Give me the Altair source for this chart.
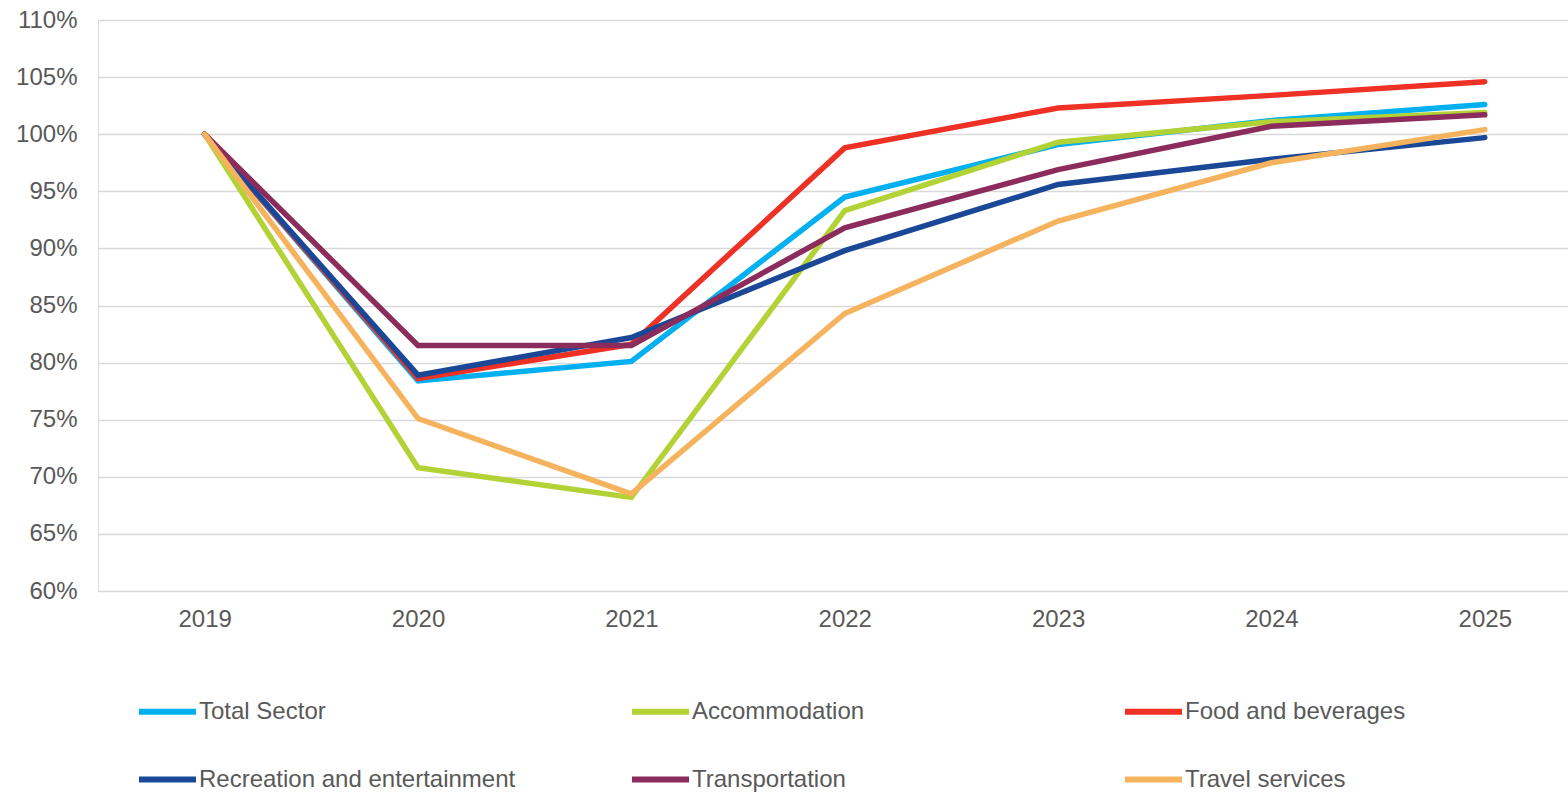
import altair as alt
import pandas as pd

years = [2019, 2020, 2021, 2022, 2023, 2024, 2025]
series = ["Total Sector", "Accommodation", "Food and beverages",
          "Recreation and entertainment", "Transportation", "Travel services"]
total_sector = [1.00, 0.784, 0.801, 0.945, 0.991, 1.012, 1.026]
accommodation = [1.00, 0.708, 0.682, 0.933, 0.993, 1.011, 1.019]
food_bev = [1.00, 0.786, 0.816, 0.988, 1.023, 1.034, 1.046]
recreation = [1.00, 0.789, 0.822, 0.898, 0.956, 0.978, 0.997]
transportation = [1.00, 0.815, 0.815, 0.918, 0.969, 1.007, 1.017]
travel = [1.00, 0.751, 0.685, 0.843, 0.924, 0.975, 1.004]
colors = ["#00B0F0", "#B2D235", "#EE3124", "#1A4896", "#8B2C5C", "#F6B35E"]

values = [total_sector, accommodation, food_bev, recreation, transportation, travel]
rows = []
for s, vals in zip(series, values):
    for y, v in zip(years, vals):
        rows.append({"Year": y, "Series": s, "Value": v, "order": series.index(s)})
df = pd.DataFrame(rows)

font = "Liberation Sans"
grey = "#595959"

chart = alt.Chart(df).mark_line(strokeWidth=5.5, strokeCap="round").encode(
    x=alt.X("Year:Q", scale=alt.Scale(domain=[2018.5, 2025.39], nice=False, zero=False),
            axis=alt.Axis(values=years, format="d", title=None, grid=False, domain=False,
                          ticks=False, labelFontSize=24, labelColor=grey, labelFont=font,
                          labelPadding=16, labelFlush=False)),
    y=alt.Y("Value:Q", scale=alt.Scale(domain=[0.6, 1.1], nice=False, zero=False),
            axis=alt.Axis(values=[0.6 + 0.05 * i for i in range(11)], format=".0%", title=None,
                          domain=False, ticks=False, labelFontSize=24, labelColor=grey,
                          labelFont=font, labelPadding=21, gridColor="#D9D9D9",
                          gridWidth=1.5)),
    color=alt.Color("Series:N", scale=alt.Scale(domain=series, range=colors),
                    legend=alt.Legend(orient="none", legendX=38, legendY=660, columns=3,
                                      direction="horizontal",
                                      gridAlign="all", columnPadding=104, rowPadding=24,
                                      symbolType="stroke", symbolSize=3249,
                                      symbolStrokeWidth=6, labelFontSize=24,
                                      labelFont=font, labelColor=grey, labelOffset=0,
                                      title=None, labelLimit=400)),
    order=alt.Order("order:Q"),
).properties(
    width=1470, height=571,
    autosize=alt.AutoSizeParams(type="none"),
    padding={"left": 98, "top": 20, "right": 0, "bottom": 201},
).configure_view(stroke=None).configure(background="white")

chart.save("out.html", embed_options={"renderer": "svg", "actions": False})
